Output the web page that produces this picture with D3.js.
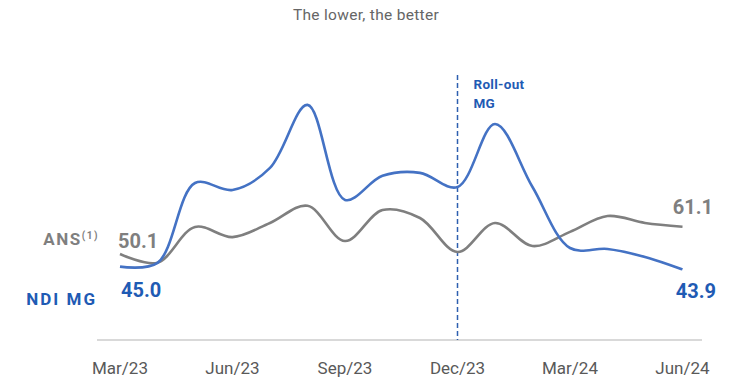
<!DOCTYPE html>
<html>
<head>
<meta charset="utf-8">
<script src="https://cdn.jsdelivr.net/npm/d3@7"></script>
<style>
  body { margin: 0; background: #fff; }
  svg { font-family: Roboto, "Noto Sans", sans-serif; }
</style>
</head>
<body>
<div id="chart"></div>
<script>
const months = ["Mar/23", "Apr/23", "May/23", "Jun/23", "Jul/23", "Aug/23", "Sep/23", "Oct/23",
  "Nov/23", "Dec/23", "Jan/24", "Feb/24", "Mar/24", "Apr/24", "May/24", "Jun/24"];
const ndiMg = [45.0, 46.5, 78.7, 75.9, 84.8, 110.2, 71.9, 81.6, 82.8, 77.1, 102.5, 77.1, 52.5, 52.1, 48.9, 43.9];
const ans = [50.1, 46.6, 61.0, 56.9, 62.6, 69.5, 55.3, 67.8, 64.6, 50.9, 62.6, 53.3, 59.0, 65.4, 62.6, 61.1];
const tickLabels = ["Mar/23", "Jun/23", "Sep/23", "Dec/23", "Mar/24", "Jun/24"];
const rolloutMonth = "Dec/23";

const width = 738, height = 378;
const blue = "#4472C4", blueText = "#1F5BB4", grey = "#7F7F7F";

const svg = d3.select("#chart").append("svg")
  .attr("width", width)
  .attr("height", height);

const x = d3.scalePoint().domain(months).range([120, 682.5]);
const y = d3.scaleLinear().domain([30, 110]).range([303.8, 105.4]);

// Title
svg.append("text")
  .attr("x", 366).attr("y", 20)
  .attr("text-anchor", "middle")
  .style("font-size", "15.5px")
  .style("letter-spacing", "0.3px")
  .style("fill", "#666666")
  .text("The lower, the better");

// Baseline axis
svg.append("line")
  .attr("x1", 97).attr("x2", 702)
  .attr("y1", 340).attr("y2", 340)
  .attr("stroke", "#D9D9D9")
  .attr("stroke-width", 2);

svg.append("g")
  .selectAll("text")
  .data(tickLabels)
  .enter()
  .append("text")
  .attr("x", d => x(d))
  .attr("y", 374)
  .attr("text-anchor", "middle")
  .style("font-size", "17px")
  .style("fill", "#595959")
  .text(d => d);

// Roll-out marker
svg.append("line")
  .attr("x1", x(rolloutMonth)).attr("x2", x(rolloutMonth))
  .attr("y1", 75).attr("y2", 340)
  .attr("stroke", "#2E5FB0")
  .attr("stroke-width", 1.5)
  .attr("stroke-dasharray", "5,3");

const rollout = svg.append("text")
  .attr("x", x(rolloutMonth) + 16)
  .attr("y", 89)
  .style("font-size", "13.5px")
  .style("font-weight", "bold")
  .style("letter-spacing", "0.3px")
  .style("fill", blueText);
rollout.append("tspan").text("Roll-out");
rollout.append("tspan").attr("x", x(rolloutMonth) + 16).attr("dy", 19).text("MG");

// Lines
const line = d3.line()
  .x((d, i) => x(months[i]))
  .y(d => y(d))
  .curve(d3.curveCatmullRom.alpha(0.5));

svg.append("path")
  .datum(ans)
  .attr("fill", "none")
  .attr("stroke", grey)
  .attr("stroke-width", 2.6)
  .attr("d", line);

svg.append("path")
  .datum(ndiMg)
  .attr("fill", "none")
  .attr("stroke", blue)
  .attr("stroke-width", 2.6)
  .attr("d", line);

// Series labels
const ansLabel = svg.append("text")
  .attr("x", 99).attr("y", 245)
  .attr("text-anchor", "end")
  .style("font-size", "17px")
  .style("font-weight", "bold")
  .style("letter-spacing", "1.5px")
  .style("fill", grey);
ansLabel.append("tspan").text("ANS");
ansLabel.append("tspan").attr("dy", -6).style("font-size", "10px").text("(1)");

svg.append("text")
  .attr("x", 97).attr("y", 305)
  .attr("text-anchor", "end")
  .style("font-size", "17px")
  .style("font-weight", "bold")
  .style("letter-spacing", "2px")
  .style("fill", blueText)
  .text("NDI MG");

// Value labels
const fmt = d3.format(".1f");
const valueLabels = [
  { v: ans[0], x: x(months[0]) - 2, y: 248, c: grey, a: "start" },
  { v: ndiMg[0], x: x(months[0]) + 1, y: 297, c: blueText, a: "start" },
  { v: ans[ans.length - 1], x: 713, y: 214, c: grey, a: "end" },
  { v: ndiMg[ndiMg.length - 1], x: 716, y: 298, c: blueText, a: "end" }
];
svg.append("g")
  .selectAll("text")
  .data(valueLabels)
  .enter()
  .append("text")
  .attr("x", d => d.x)
  .attr("y", d => d.y)
  .attr("text-anchor", d => d.a)
  .style("font-size", "20px")
  .style("font-weight", "bold")
  .style("fill", d => d.c)
  .text(d => fmt(d.v));
</script>
</body>
</html>
